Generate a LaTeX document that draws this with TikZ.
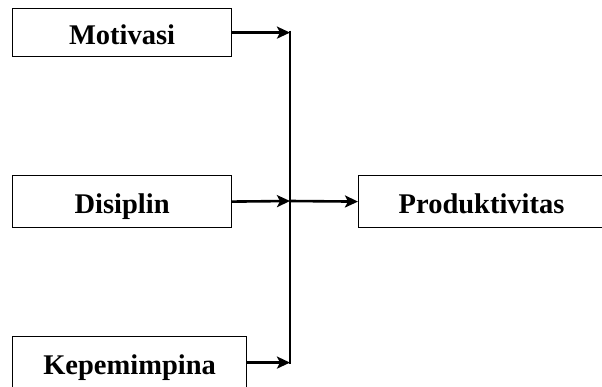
\documentclass[tikz,border=0pt]{standalone}
\usepackage{fontspec}
\setmainfont{Liberation Serif}
\usetikzlibrary{arrows.meta}
\begin{document}
\begin{tikzpicture}[x=1pt,y=-1pt,
  box/.style={draw,line width=1.2pt,inner sep=0pt,text height=24pt,text depth=0pt,
    font=\fontsize{28.5}{30}\selectfont\bfseries,anchor=north west},
  arr/.style={line width=2.6pt,-{Stealth[length=13pt,width=12pt,inset=3pt]}},
  spine/.style={line width=2pt}]
\useasboundingbox (0,0) rectangle (602,387);
\node[box,minimum width=219pt,minimum height=48pt] (M) at (12,8) {Motivasi};
\node[box,minimum width=219pt,minimum height=52pt] (D) at (12,175) {Disiplin};
\node[box,minimum width=234pt,minimum height=52pt] (K) at (12,336) {Kepemimpina};
\node[box,minimum width=246pt,minimum height=52pt] (P) at (358,175) {Produktivitas};
\coordinate (jx) at (290,201);
\draw[spine] ([yshift=2pt]jx |- M.east) -- ([yshift=-1pt]jx |- K.east);
\draw[arr] (M.east) -- (M.east -| jx);
\draw[arr] (D.east) -- (jx);
\draw[arr] (jx) -- (P.west);
\draw[arr] (K.east) -- (K.east -| jx);
\end{tikzpicture}
\end{document}
